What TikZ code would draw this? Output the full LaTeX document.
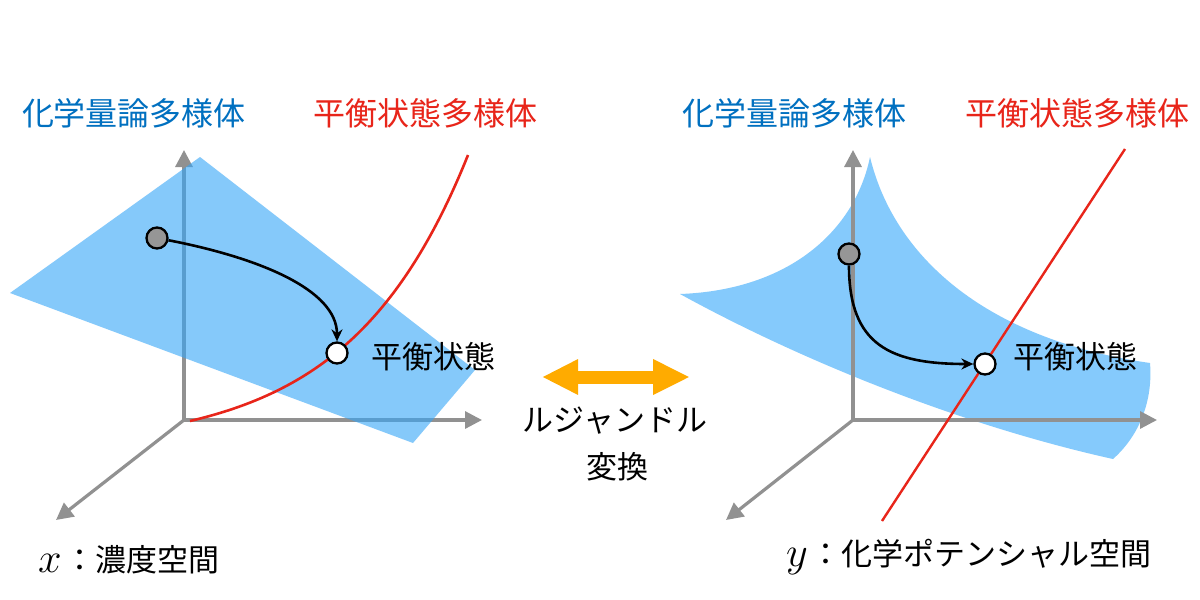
\documentclass[tikz,border=0pt]{standalone}
\usepackage{fontspec}
\setmainfont{Noto Sans CJK JP}
\usetikzlibrary{arrows.meta}
\definecolor{ttlblue}{RGB}{0,112,192}
\definecolor{ttlred}{RGB}{232,37,26}
\definecolor{planeblue}{RGB}{52,165,248}
\definecolor{surfblue}{RGB}{133,202,252}
\definecolor{axisgray}{RGB}{145,145,145}
\definecolor{arroworange}{RGB}{255,171,0}
\definecolor{dotgray}{RGB}{150,150,150}
\newcommand{\varsym}[1]{{\fontsize{24.88}{28}\selectfont\raisebox{-1pt}{\scalebox{1.7}{$#1$}}\hspace{3pt}}}
\begin{document}
\begin{tikzpicture}[x=1pt,y=-1pt,
 axis/.style={draw=axisgray,line width=3.2pt,-{Triangle[length=17pt,width=17pt]}},
 ttl/.style={font=\fontsize{32pt}{36pt}\selectfont,inner sep=0pt},
 lbl/.style={font=\fontsize{31pt}{36pt}\selectfont,inner sep=0pt},
 startdot/.style={circle,draw=black,line width=2.3pt,fill=dotgray,minimum size=21pt,inner sep=0pt},
 enddot/.style={circle,draw=black,line width=2.3pt,fill=white,minimum size=21pt,inner sep=0pt},
 flow/.style={draw=black,line width=2.6pt,-{Stealth[length=12pt,width=11pt]}},
 eqcurve/.style={draw=ttlred,line width=2.6pt},
 bigarrow/.style={draw=arroworange,line width=13pt,{Triangle[length=36pt,width=33pt]}-{Triangle[length=37pt,width=33pt]}},
]
\fill[white] (0,0) rectangle (1200,600);
\useasboundingbox (0,0) rectangle (1200,600);

% ---------- left panel ----------
\node[ttl,text=ttlblue] (t1b) at (134,113) {化学量論多様体};
\node[ttl,text=ttlred] (t1r) at (425,113) {平衡状態多様体};

\coordinate (O1) at (184,420);
\coordinate (Y1) at (184,150);
\coordinate (X1) at (482,420);
\coordinate (Z1) at (56,520);
\draw[axis] (O1) -- (Y1);
\draw[axis] (O1) -- (X1);
\draw[axis] (O1) -- (Z1);

\fill[planeblue,fill opacity=0.6] (200,157) -- (10,293) -- (413,443) -- (475,370) -- cycle;

\draw[eqcurve] plot[domain=190:468,samples=80,smooth] (\x,{421-27.65*(exp(0.0085*(\x-190))-1)});

\node[startdot] (s1) at (157,238) {};
\node[enddot] (e1) at (337,353) {};
\draw[flow] (s1) .. controls (260,258) and (337,290) .. (e1);
\node[lbl] (l1) at (433,357) {平衡状態};

\node[lbl,anchor=west] (b1) at (38,560) {\varsym{x}：濃度空間};

% ---------- centre ----------
\coordinate (La) at (542,377);
\coordinate (Ra) at (690,377);
\draw[bigarrow] (La) -- (Ra);
\node[lbl] (c1) at (615,421) {ルジャンドル};
\node[lbl] (c2) at (617,467) {変換};

% ---------- right panel ----------
\node[ttl,text=ttlblue] (t2b) at (794,113) {化学量論多様体};
\node[ttl,text=ttlred] (t2r) at (1077,113) {平衡状態多様体};

\fill[surfblue] (680,294) .. controls (790,290) and (855,230) .. (870,157)
  .. controls (895,260) and (990,340) .. (1150,363)
  .. controls (1153,400) and (1140,435) .. (1113,459)
  .. controls (960,425) and (800,360) .. (680,294) -- cycle;

\coordinate (O2) at (853,420);
\coordinate (Y2) at (853,150);
\coordinate (X2) at (1157,420);
\coordinate (Z2) at (726,520);
\draw[axis] (O2) -- (Y2);
\draw[axis] (O2) -- (X2);
\draw[axis] (O2) -- (Z2);

\coordinate (Rt) at (1125,149);
\coordinate (Rb) at (882,521);
\draw[draw=ttlred,line width=2.4pt] (Rt) -- (Rb);

\node[startdot] (s2) at (849,254) {};
\node[enddot] (e2) at (985,364) {};
\draw[flow] (s2) .. controls (849,345) and (890,364) .. (e2);
\node[lbl] (l2) at (1075,357) {平衡状態};

\node[lbl,anchor=west] (b2) at (786,557) {\varsym{y}：化学ポテンシャル空間};
\end{tikzpicture}
\end{document}
